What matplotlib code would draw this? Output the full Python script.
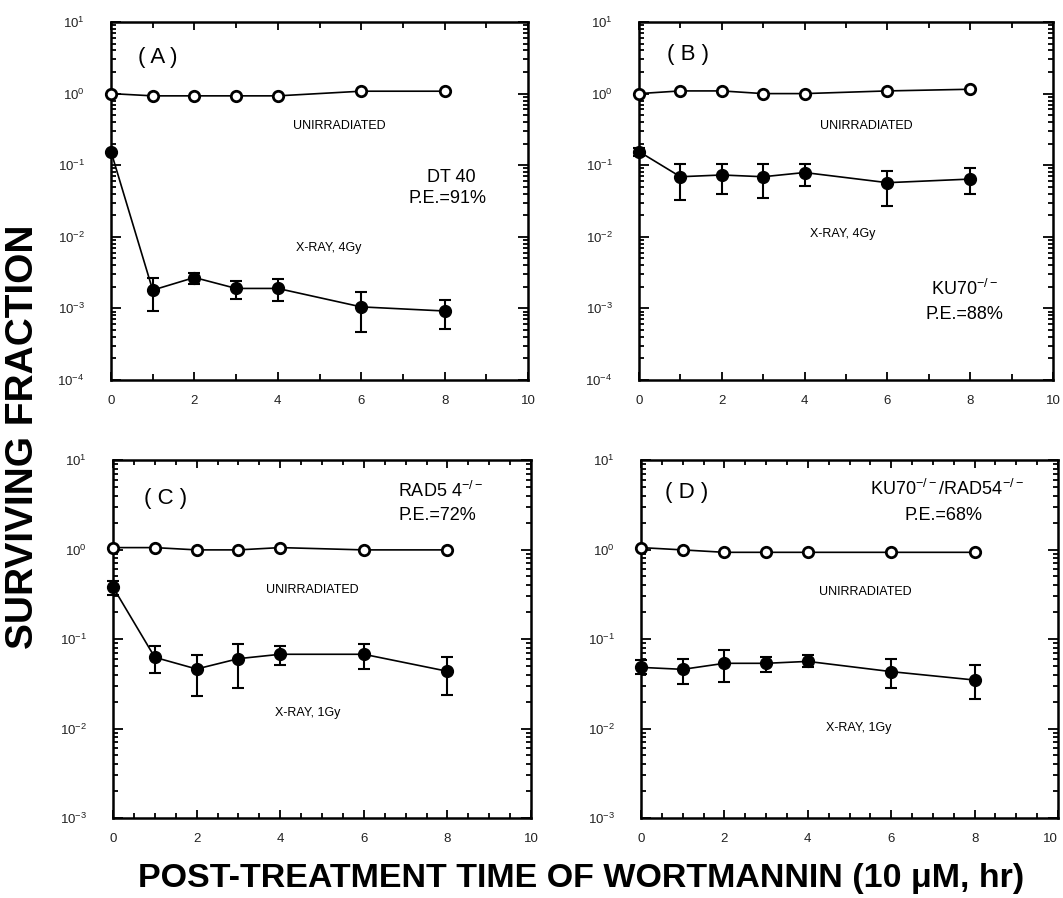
import numpy as np
import matplotlib
matplotlib.use("Agg")
import matplotlib.pyplot as plt
from matplotlib.ticker import LogLocator, FuncFormatter, MultipleLocator, NullFormatter

plt.rcParams['font.family'] = ['Liberation Sans', 'DejaVu Sans']
plt.rcParams['mathtext.default'] = 'regular'

# --- datos ---
time_h = [0, 1, 2, 3, 4, 6, 8]
x_ticks = [0, 2, 4, 6, 8, 10]

# (A) DT40, X-ray 4 Gy
a_unirr = [1.0, 0.93, 0.93, 0.93, 0.93, 1.08, 1.08]
a_xray = [0.155, 0.0018, 0.0027, 0.0019, 0.0019, 0.00105, 0.00092]
a_xray_hi = [0.155, 0.0027, 0.0031, 0.0024, 0.0026, 0.0017, 0.0013]
a_xray_lo = [0.155, 0.00092, 0.0022, 0.00135, 0.00127, 0.00047, 0.00051]

# (B) KU70-/-, X-ray 4 Gy
b_unirr = [1.0, 1.09, 1.09, 1.0, 1.0, 1.09, 1.15]
b_xray = [0.155, 0.069, 0.073, 0.069, 0.079, 0.057, 0.064]
b_xray_hi = [0.176, 0.104, 0.104, 0.104, 0.104, 0.084, 0.090]
b_xray_lo = [0.134, 0.0327, 0.040, 0.035, 0.052, 0.027, 0.040]

# (C) RAD54-/-, X-ray 1 Gy
c_unirr = [1.05, 1.05, 0.99, 0.99, 1.05, 0.99, 0.99]
c_xray = [0.38, 0.0624, 0.0462, 0.0603, 0.0675, 0.0675, 0.0436]
c_xray_hi = [0.44, 0.0835, 0.0668, 0.0879, 0.0835, 0.0879, 0.0634]
c_xray_lo = [0.31, 0.0414, 0.0231, 0.0284, 0.0508, 0.0466, 0.0239]

# (D) KU70-/-/RAD54-/-, X-ray 1 Gy
d_unirr = [1.05, 0.99, 0.93, 0.93, 0.93, 0.93, 0.93]
d_xray = [0.0482, 0.0458, 0.0535, 0.0535, 0.0562, 0.0432, 0.0348]
d_xray_hi = [0.0582, 0.0593, 0.0754, 0.0624, 0.0662, 0.0598, 0.0513]
d_xray_lo = [0.0406, 0.0314, 0.0334, 0.0432, 0.0482, 0.0286, 0.0215]

W, H = 1063, 898
fig = plt.figure(figsize=(W / 100, H / 100), dpi=100)

def px_axes(left, right, top, bottom):
    return fig.add_axes([left / W, 1 - bottom / H, (right - left) / W, (bottom - top) / H])

def fmt_pow(v, pos):
    e = int(round(np.log10(v)))
    return r'$10^{%d}$' % e

def panel(ax, unirr, xray, hi, lo, ymin, xminor):
    xray = np.array(xray)
    yerr = [xray - np.array(lo), np.array(hi) - xray]
    ax.errorbar(time_h, xray, yerr=yerr, fmt='o-', color='black', ms=8.5, lw=1.2,
                elinewidth=1.5, capsize=4.5, capthick=1.5, zorder=3, clip_on=False)
    ax.plot(time_h, unirr, 'o-', color='black', mfc='white', mec='black', mew=2.0,
            ms=7.5, lw=1.2, zorder=4, clip_on=False)
    ax.set_yscale('log')
    ax.set_xlim(0, 10)
    ax.set_ylim(ymin, 10)
    ax.set_xticks(x_ticks)
    ax.set_xticklabels([str(t) for t in x_ticks])
    ax.xaxis.set_minor_locator(MultipleLocator(xminor))
    ax.yaxis.set_major_locator(LogLocator(base=10, numticks=10))
    ax.yaxis.set_minor_locator(LogLocator(base=10, subs=np.arange(2, 10), numticks=10))
    ax.yaxis.set_minor_formatter(NullFormatter())
    ax.yaxis.set_major_formatter(FuncFormatter(fmt_pow))
    ax.tick_params(which='both', direction='in', top=True, right=True, width=1.3,
                   colors='black', labelcolor='#222222', labelsize=9.5)
    ax.tick_params(axis='x', which='major', length=6, pad=11)
    ax.tick_params(axis='x', which='minor', length=4.5 if xminor == 1 else 3.5)
    ax.tick_params(axis='y', which='major', length=7, pad=19)
    ax.tick_params(axis='y', which='minor', length=3.5)
    for s in ax.spines.values():
        s.set_linewidth(1.8)

axA = px_axes(111, 528, 22, 380)
axB = px_axes(639, 1053, 22, 380)
axC = px_axes(113, 531, 460, 818)
axD = px_axes(641, 1058, 460, 818)

panel(axA, a_unirr, a_xray, a_xray_hi, a_xray_lo, 1e-4, 1)
panel(axB, b_unirr, b_xray, b_xray_hi, b_xray_lo, 1e-4, 1)
panel(axC, c_unirr, c_xray, c_xray_hi, c_xray_lo, 1e-3, 0.5)
panel(axD, d_unirr, d_xray, d_xray_hi, d_xray_lo, 1e-3, 0.5)

# el "10" del panel D queda en el borde: alinearlo a la derecha
axD.get_xticklabels()[-1].set_horizontalalignment('right')

big = dict(fontsize=16, ha='center', va='center')
mid = dict(fontsize=13, ha='center', va='center')
small = dict(fontsize=9, ha='center', va='center')

# (A)
axA.text(0.113, 0.90, '( A )', transform=axA.transAxes, **big)
axA.text(0.547, 0.709, 'UNIRRADIATED', transform=axA.transAxes, **small)
axA.text(0.815, 0.566, 'DT 40', transform=axA.transAxes, **mid)
axA.text(0.806, 0.506, 'P.E.=91%', transform=axA.transAxes, **mid)
axA.text(0.522, 0.368, 'X-RAY, 4Gy', transform=axA.transAxes, **small)

# (B)
axB.text(0.118, 0.91, '( B )', transform=axB.transAxes, **big)
axB.text(0.549, 0.709, 'UNIRRADIATED', transform=axB.transAxes, **small)
axB.text(0.493, 0.408, 'X-RAY, 4Gy', transform=axB.transAxes, **small)
axB.text(0.787, 0.255, r'KU70$^{-/-}$', transform=axB.transAxes, **mid)
axB.text(0.787, 0.182, 'P.E.=88%', transform=axB.transAxes, **mid)

# (C)
axC.text(0.126, 0.893, '( C )', transform=axC.transAxes, **big)
axC.text(0.785, 0.913, r'RAD5 4$^{-/-}$', transform=axC.transAxes, **mid)
axC.text(0.776, 0.844, 'P.E.=72%', transform=axC.transAxes, **mid)
axC.text(0.478, 0.636, 'UNIRRADIATED', transform=axC.transAxes, **small)
axC.text(0.466, 0.294, 'X-RAY, 1Gy', transform=axC.transAxes, **small)

# (D)
axD.text(0.110, 0.909, '( D )', transform=axD.transAxes, **big)
axD.text(0.735, 0.918, r'KU70$^{-/-}$/RAD54$^{-/-}$', transform=axD.transAxes, **mid)
axD.text(0.725, 0.844, 'P.E.=68%', transform=axD.transAxes, **mid)
axD.text(0.537, 0.631, 'UNIRRADIATED', transform=axD.transAxes, **small)
axD.text(0.521, 0.252, 'X-RAY, 1Gy', transform=axD.transAxes, **small)

fig.text(23 / W, 1 - 437 / H, 'SURVIVING FRACTION', rotation=90, ha='center', va='center',
         fontsize=28, fontweight='bold')
fig.text(581 / W, 1 - 878 / H, 'POST-TREATMENT TIME OF WORTMANNIN (10 \u03bcM, hr)',
         ha='center', va='center', fontsize=24.5, fontweight='bold')

fig.savefig('out.png', dpi=100)
